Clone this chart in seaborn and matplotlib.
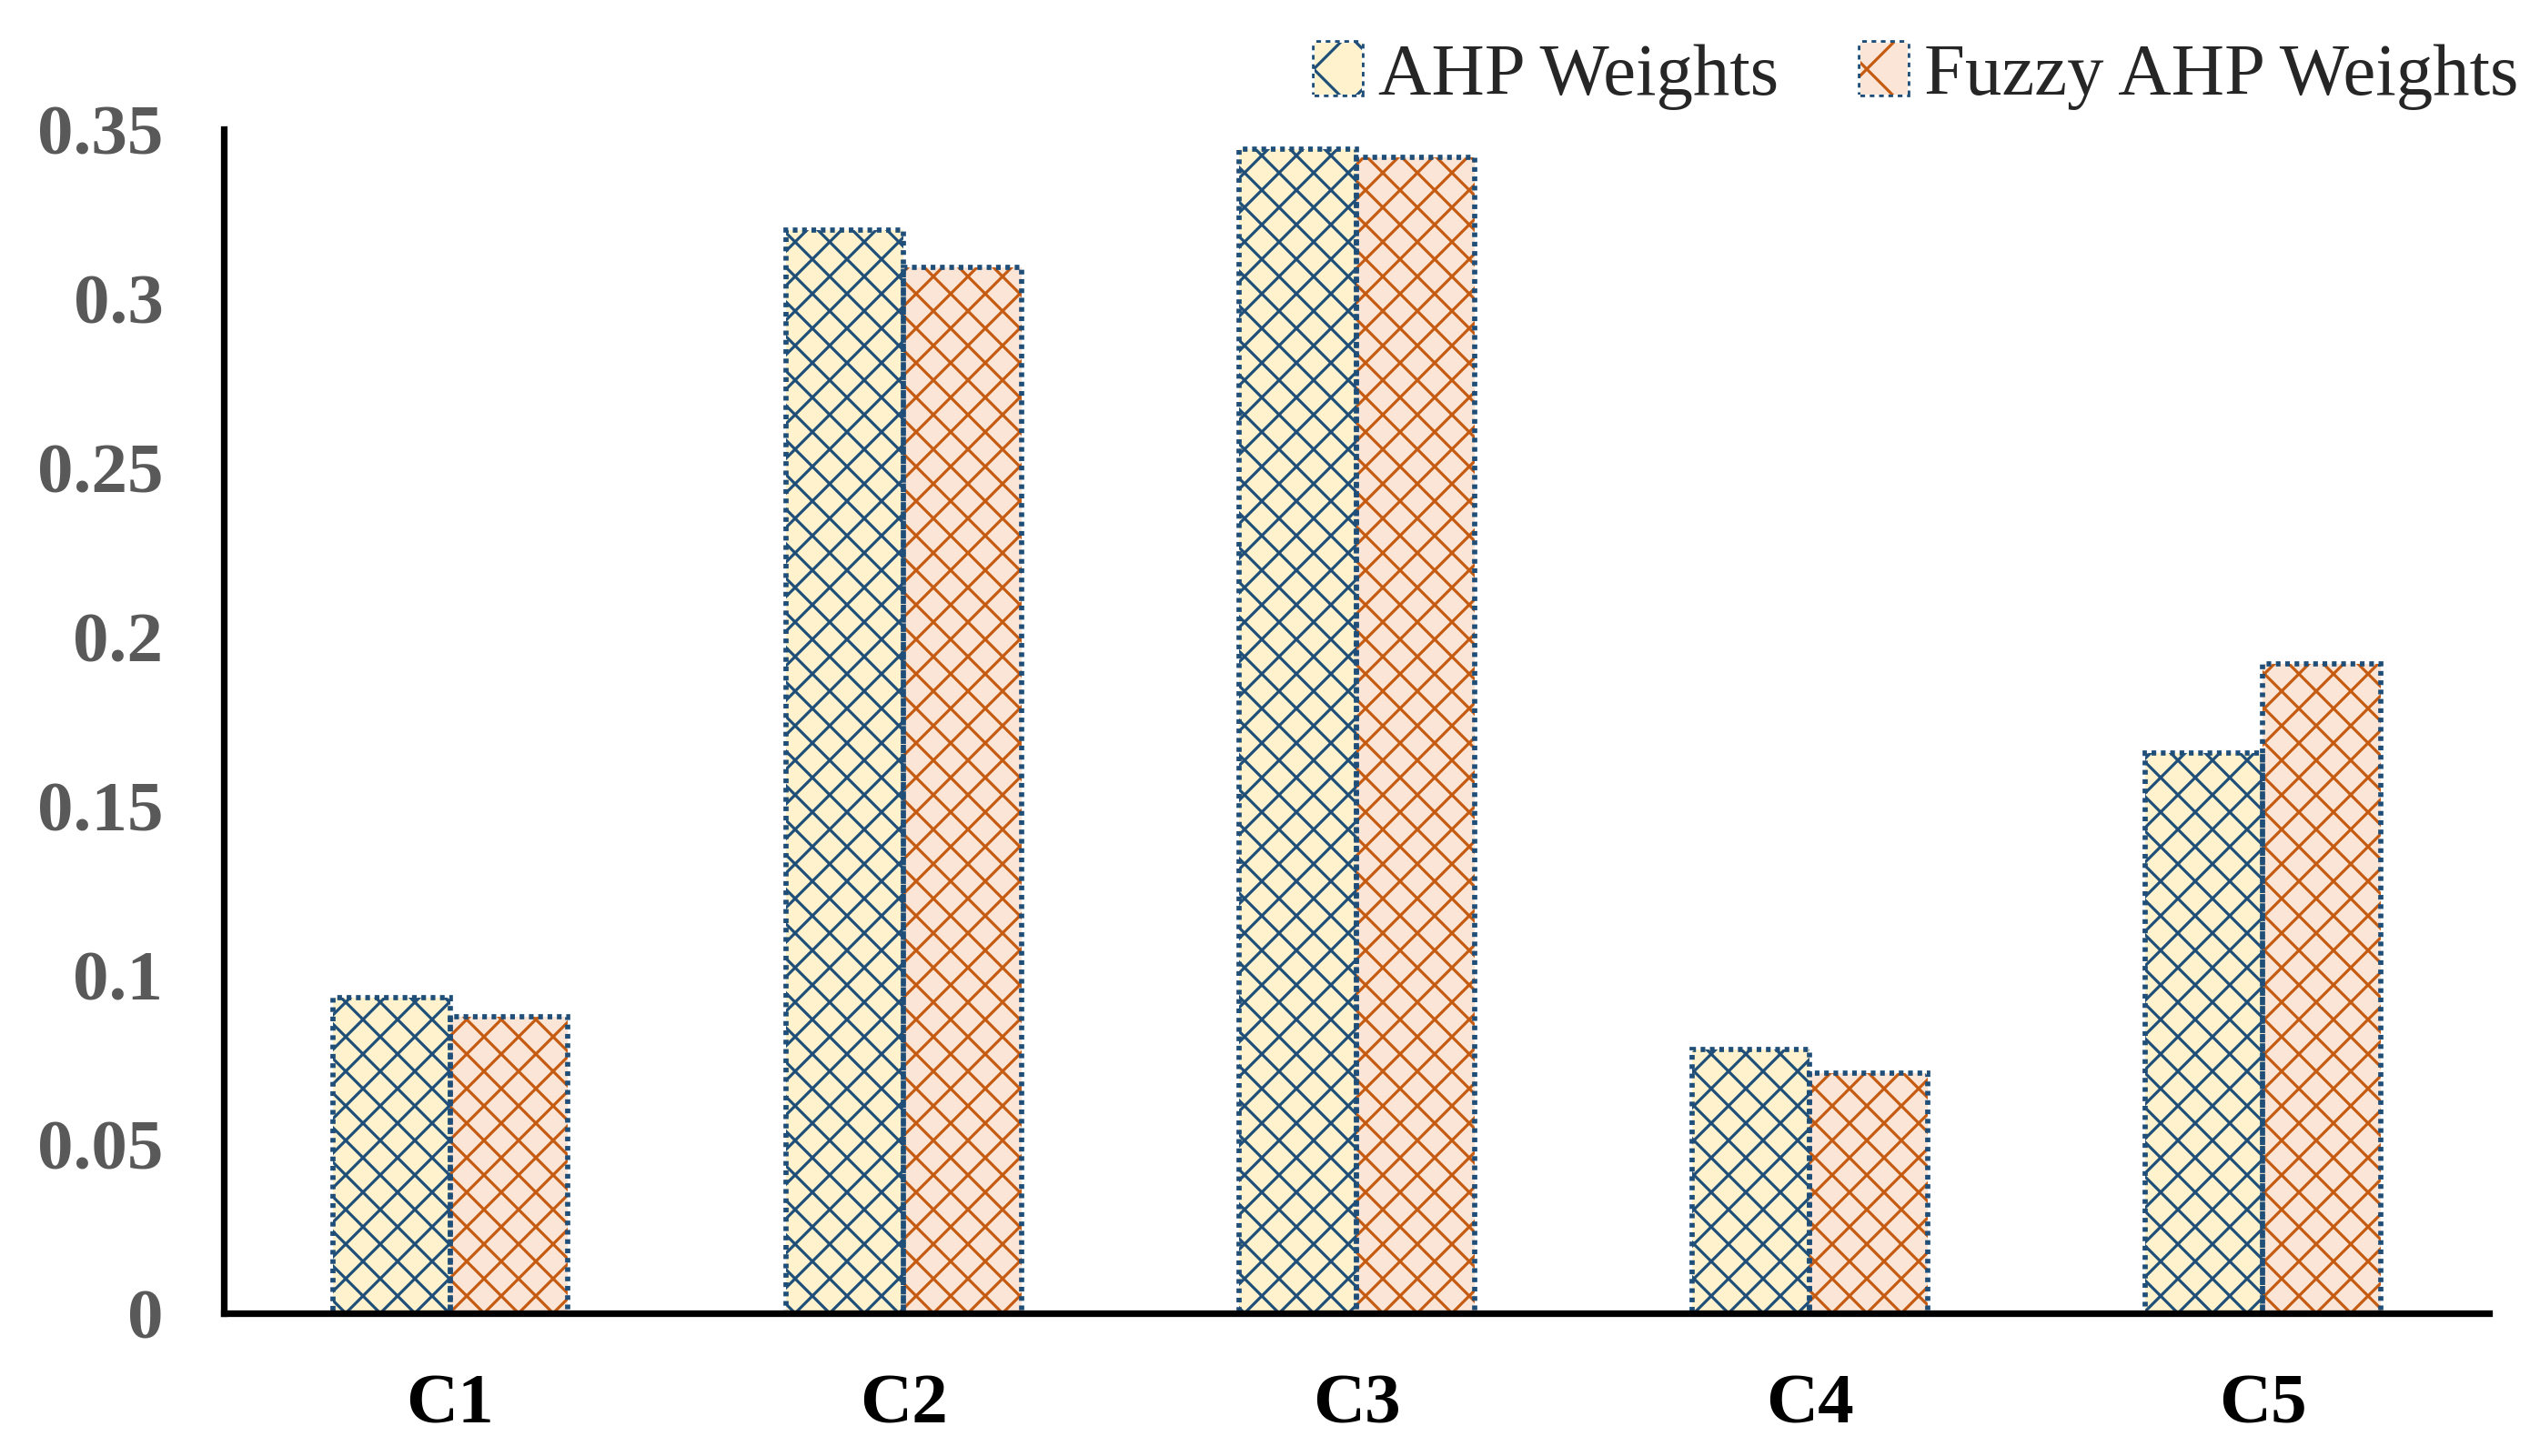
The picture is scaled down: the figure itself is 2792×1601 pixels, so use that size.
import numpy as np
import pandas as pd
import matplotlib
matplotlib.use("Agg")
import matplotlib.pyplot as plt
from matplotlib.patches import Rectangle, Patch
import seaborn as sns

categories = ["C1", "C2", "C3", "C4", "C5"]
ahp_weights = [0.0934, 0.3203, 0.3443, 0.0780, 0.1657]
fuzzy_weights = [0.0876, 0.3093, 0.3419, 0.0709, 0.1920]
series_names = ["AHP Weights", "Fuzzy AHP Weights"]
y_ticks = [0, 0.05, 0.1, 0.15, 0.2, 0.25, 0.3, 0.35]
y_tick_labels = ["0", "0.05", "0.1", "0.15", "0.2", "0.25", "0.3", "0.35"]

fill_colors = ["#FFF2CC", "#FBE5D6"]
hatch_colors = ["#1F4E79", "#C55A11"]
edge_color = "#1F4E79"

df = pd.DataFrame({
    "Criterion": categories * 2,
    "Weight": ahp_weights + fuzzy_weights,
    "Series": [series_names[0]] * len(categories) + [series_names[1]] * len(categories),
})

sns.set_theme(style="white")
plt.rcParams["font.family"] = ["Liberation Serif", "DejaVu Serif"]
plt.rcParams["hatch.linewidth"] = 1.0

DPI = 228
fig = plt.figure(figsize=(2792 / DPI, 1601 / DPI), dpi=DPI)
ax = fig.add_axes([0.0881, 0.098, 0.980 - 0.0881, 0.911 - 0.098])

sns.barplot(data=df, x="Criterion", y="Weight", hue="Series", hue_order=series_names,
            palette=fill_colors, width=0.52, saturation=1, legend=False, ax=ax)

bars = list(ax.patches)
for i, p in enumerate(bars):
    s = i // len(categories)
    p.set_hatch("xx")
    p.set_edgecolor(hatch_colors[s])
    p.set_linewidth(0)
    ax.add_patch(Rectangle(p.get_xy(), p.get_width(), p.get_height(), fill=False,
                           edgecolor=edge_color, linewidth=1.8, linestyle=(0, (0.9, 0.9)),
                           zorder=p.get_zorder() + 0.1))

ax.set_xlim(-0.5, len(categories) - 0.5)
ax.set_ylim(0, 0.35)
ax.set_yticks(y_ticks)
ax.set_yticklabels(y_tick_labels)
ax.set_xlabel("")
ax.set_ylabel("")

for sp in ["top", "right"]:
    ax.spines[sp].set_visible(False)
for sp in ["left", "bottom"]:
    ax.spines[sp].set_color("black")
    ax.spines[sp].set_linewidth(2.3)

ax.tick_params(axis="both", length=0)
ax.tick_params(axis="y", pad=21, labelsize=25, labelcolor="#595959")
ax.tick_params(axis="x", pad=21, labelsize=25, labelcolor="black")
for lbl in ax.get_yticklabels() + ax.get_xticklabels():
    lbl.set_fontweight("bold")

handles = [Patch(facecolor=fill_colors[k], edgecolor=hatch_colors[k], hatch="x", linewidth=0)
           for k in range(2)]
leg = fig.legend(handles, series_names, loc="center right", bbox_to_anchor=(0.9914, 0.9475),
                 ncol=2, frameon=False, fontsize=25.5, handlelength=0.64, handleheight=0.7,
                 handletextpad=0.22, columnspacing=1.12, borderpad=0, borderaxespad=0)

fig.canvas.draw()
for h in leg.legend_handles:
    bb = h.get_window_extent()
    fig.patches.append(Rectangle((bb.x0, bb.y0), bb.width, bb.height, fill=False,
                                 edgecolor=edge_color, linewidth=1.8, linestyle=(0, (0.9, 0.9)),
                                 transform=None, figure=fig))

fig.savefig("out.png", dpi=DPI, facecolor="white")
